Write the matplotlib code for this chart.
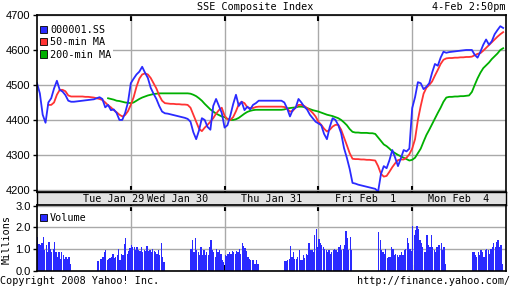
import matplotlib
matplotlib.use("Agg")
import matplotlib.pyplot as plt
from matplotlib.patches import Patch
import numpy as np

# --- data (10-minute samples, 33 per trading day) ---
day_labels = ["Tue Jan 29", "Wed Jan 30", "Thu Jan 31", "Fri Feb  1", "Mon Feb  4"]
nan = np.nan

price = [
    # Tue Jan 29
    4505, 4476, 4415, 4392, 4450, 4462, 4490, 4512, 4486, 4481, 4471, 4455, 4452,
    4452, 4453, 4454, 4455, 4456, 4457, 4458, 4459,
    4462, 4465, 4460, 4436, 4443, 4428, 4430, 4420, 4400, 4400, 4420, 4450,
    # Wed Jan 30
    4505, 4518, 4530, 4538, 4552, 4535, 4520, 4492, 4475, 4460, 4440, 4424, 4419,
    4418, 4416, 4414, 4412, 4410, 4408, 4406, 4403,
    4395, 4365, 4345, 4370, 4405, 4400, 4380, 4372, 4440, 4460, 4440, 4420,
    # Thu Jan 31
    4378, 4385, 4412, 4445, 4472, 4440, 4452, 4428, 4438, 4430, 4443, 4448, 4455,
    4455, 4455, 4455, 4455, 4455, 4455, 4455, 4455,
    4450, 4433, 4410, 4429, 4435, 4460, 4450, 4438, 4430, 4415, 4405, 4395,
    # Fri Feb 1
    4390, 4385, 4360, 4345, 4380, 4405, 4400, 4385, 4362, 4320, 4292, 4260, 4220,
    4218, 4215, 4213, 4211, 4209, 4207, 4205, 4203,
    4195, 4245, 4268, 4262, 4285, 4314, 4292, 4268, 4290, 4314, 4310, 4318,
    # Mon Feb 4
    4434, 4465, 4508, 4505, 4488, 4495, 4505, 4535, 4560, 4555, 4578, 4595, 4592,
    4594, 4595, 4596, 4597, 4598, 4599, 4600, 4600,
    4600, 4586, 4578, 4595, 4615, 4630, 4615, 4625, 4645, 4657, 4668, 4663,
]

ma50 = [
    nan, nan, nan, nan, 4443, 4443, 4450, 4472, 4486, 4486, 4482, 4470, 4467,
    4467, 4467, 4467, 4467, 4466, 4466, 4465, 4464,
    4462, 4460, 4457, 4450, 4442, 4436, 4428, 4422, 4415, 4410, 4414, 4425,
    4443, 4465, 4495, 4518, 4530, 4533, 4530, 4520, 4505, 4490, 4470, 4455, 4448,
    4447, 4446, 4446, 4445, 4445, 4444, 4444, 4443,
    4435, 4415, 4395, 4375, 4368, 4378, 4386, 4395, 4405, 4418, 4428, 4435,
    4412, 4402, 4400, 4408, 4425, 4445, 4452, 4448, 4436, 4434, 4434, 4437, 4438,
    4438, 4438, 4438, 4438, 4438, 4438, 4438, 4438,
    4437, 4432, 4424, 4426, 4436, 4443, 4443, 4440, 4434, 4428, 4420, 4410,
    4395, 4386, 4375, 4367, 4372, 4381, 4386, 4386, 4372, 4350, 4328, 4305, 4289,
    4288, 4288, 4287, 4287, 4286, 4286, 4285, 4284,
    4268, 4246, 4238, 4240, 4252, 4265, 4276, 4285, 4287, 4287, 4292, 4302,
    4318, 4345, 4400, 4440, 4475, 4492, 4500, 4510, 4527, 4543, 4560, 4572, 4576,
    4577, 4577, 4578, 4578, 4579, 4579, 4580, 4580,
    4581, 4585, 4589, 4591, 4598, 4606, 4614, 4622, 4630, 4638, 4645, 4651,
]

ma200 = [
    nan, nan, nan, nan, nan, nan, nan, nan, nan, nan, nan, nan, nan,
    nan, nan, nan, nan, nan, nan, nan, nan,
    nan, nan, nan, nan, 4462, 4460, 4458, 4455, 4454, 4452, 4450, 4449,
    4448, 4450, 4455, 4460, 4464, 4467, 4470, 4472, 4474, 4475, 4476, 4476, 4476,
    4476, 4476, 4476, 4476, 4476, 4476, 4476, 4476,
    4475, 4472, 4468, 4462, 4455, 4446, 4438, 4430, 4424, 4418, 4414, 4410,
    4408, 4403, 4400, 4400, 4402, 4406, 4412, 4418, 4423, 4426, 4428, 4429, 4429,
    4429, 4429, 4429, 4429, 4429, 4429, 4429, 4429,
    4430, 4433, 4434, 4435, 4436, 4438, 4438, 4437, 4434, 4431, 4428, 4426,
    4424, 4421, 4418, 4415, 4413, 4411, 4408, 4405, 4400, 4393, 4385, 4374, 4366,
    4364, 4364, 4363, 4363, 4363, 4362, 4362, 4360,
    4350, 4340, 4330, 4325, 4318, 4310, 4305, 4300, 4296, 4292, 4288, 4284,
    4286, 4292, 4305, 4318, 4338, 4357, 4372, 4388, 4404, 4420, 4435, 4452, 4464,
    4466, 4466, 4467, 4467, 4468, 4468, 4469, 4470,
    4480, 4500, 4519, 4535, 4548, 4556, 4564, 4574, 4582, 4590, 4600, 4605,
]

# volume in millions, 5-minute bars, morning and afternoon sessions
vol_am = [
    [1.57, 1.22, 1.19, 1.30, 1.57, 0.95, 1.19, 0.88, 1.34, 1.03, 0.88, 1.00,
     1.34, 0.88, 0.66, 0.85, 0.57, 0.88, 0.73, 0.57, 0.65, 0.57, 0.65, 0.30],
    [1.19, 1.10, 1.12, 0.96, 1.12, 0.96, 0.93, 1.10, 0.88, 0.96, 0.93, 1.15,
     0.90, 0.96, 0.88, 1.03, 0.93, 0.88, 0.80, 0.96, 0.73, 1.27, 0.65, 0.42],
    [0.73, 0.70, 0.76, 0.88, 0.80, 0.90, 0.88, 0.76, 0.90, 0.88, 1.00, 0.76,
     1.30, 1.15, 1.04, 0.90, 0.65, 0.57, 0.50, 0.50, 0.50, 0.30, 0.50, 0.30],
    [1.47, 1.27, 1.19, 1.10, 1.03, 0.96, 0.88, 0.96, 0.80, 0.88, 0.96, 1.03,
     0.96, 0.88, 1.10, 1.19, 0.96, 1.00, 1.20, 1.83, 1.50, 0.96, 1.57, 0.96],
    [2.08, 1.65, 1.88, 2.05, 1.95, 1.42, 1.27, 1.12, 0.88, 0.88, 1.65, 1.19,
     1.12, 1.65, 1.12, 0.96, 0.88, 1.12, 1.19, 1.19, 1.27, 0.96, 1.12, 0.30],
]
vol_pm = [
    [0.45, 0.46, 0.53, 0.57, 0.62, 0.88, 0.96, 0.50, 0.55, 0.58, 0.62, 0.78,
     0.58, 0.62, 0.73, 1.00, 0.50, 0.80, 0.73, 1.24, 1.50, 0.80, 0.90, 1.05],
    [1.00, 1.43, 0.88, 1.52, 0.96, 0.88, 0.73, 1.10, 0.73, 0.96, 0.73, 0.88,
     0.73, 1.10, 1.42, 0.96, 0.88, 0.66, 1.03, 0.88, 0.96, 0.80, 0.50, 0.43],
    [0.46, 0.46, 0.50, 0.55, 1.15, 0.66, 0.88, 0.55, 0.55, 0.66, 0.96, 0.50,
     0.50, 0.73, 0.60, 0.80, 0.73, 1.27, 0.96, 0.96, 0.88, 1.65, 1.92, 1.10],
    [1.80, 1.42, 0.96, 0.88, 0.80, 1.03, 0.58, 0.66, 0.62, 1.12, 1.03, 0.73,
     0.80, 0.73, 0.66, 0.73, 0.88, 0.73, 0.96, 1.03, 1.50, 1.27, 1.00, 0.90],
    [0.88, 0.85, 0.73, 0.66, 0.88, 0.73, 0.96, 0.88, 0.66, 0.96, 1.03, 0.96,
     0.80, 1.03, 1.10, 1.27, 1.10, 1.34, 1.42, 1.10, 1.20, 0.30],
]

# --- time axis: minutes from 9:30, 330 minutes per day block (lunch kept) ---
DAY = 330
price_t = np.array([d * DAY + 10 * j for d in range(5) for j in range(33)])
vol_t, vol = [], []
for d in range(5):
    vol_t += [d * DAY + 5 * k for k in range(len(vol_am[d]))]
    vol += vol_am[d]
    vol_t += [d * DAY + 210 + 5 * k for k in range(len(vol_pm[d]))]
    vol += vol_pm[d]

BLUE = "#2a2aff"
RED = "#ff3333"
GREEN = "#00b000"
GRID = "#a9a9a9"
MONO = "DejaVu Sans Mono"
W, H = 512, 288

fig = plt.figure(figsize=(W / 100, H / 100), dpi=100)
L, R = 37 / W, 506 / W

ax = fig.add_axes([L, 1 - 192 / H, R - L, 177 / H])
band = fig.add_axes([L, 1 - 205 / H, R - L, 13 / H])
vax = fig.add_axes([L, 1 - 271 / H, R - L, 66 / H])

bounds = [DAY, 2 * DAY, 3 * DAY, 4 * DAY]

# price panel
ax.plot(price_t, ma200, color=GREEN, lw=1.3)
ax.plot(price_t, ma50, color=RED, lw=1.3)
ax.plot(price_t, price, color=BLUE, lw=1.3)
ax.set_xlim(0, 5 * DAY)
ax.set_ylim(4194, 4700)
ax.set_yticks([4200, 4300, 4400, 4500, 4600, 4700])
ax.set_xticks(bounds)
ax.grid(True, color=GRID, lw=1.0)
ax.set_axisbelow(True)
ax.tick_params(axis="x", direction="in", length=4, width=1.5, top=True,
               bottom=True, labelbottom=False)
ax.tick_params(axis="y", direction="out", length=3, width=1, pad=1.5,
               labelsize=8, labelfontfamily="Liberation Sans")
for s in ax.spines.values():
    s.set_linewidth(1.2)

handles = [Patch(facecolor=c, edgecolor="black", lw=0.6) for c in (BLUE, RED, GREEN)]
leg = ax.legend(handles, ["000001.SS", "50-min MA", "200-min MA"],
                loc="upper left", bbox_to_anchor=(0.0, 0.96),
                prop={"family": MONO, "size": 7.3}, handlelength=0.7,
                handleheight=0.7, handletextpad=0.3, labelspacing=0.22,
                borderpad=0.2, borderaxespad=0.1, frameon=True, fancybox=False)
leg.get_frame().set_facecolor("white")
leg.get_frame().set_edgecolor("none")
leg.get_frame().set_alpha(1)

# date band
band.set_facecolor("#e2e2e2")
band.set_xlim(0, 5 * DAY)
band.set_ylim(0, 1)
band.set_xticks([])
band.set_yticks([])
for s in band.spines.values():
    s.set_linewidth(1.0)
label_x = [270] + [d * DAY + DAY / 2 for d in range(1, 5)]
for x, lab in zip(label_x, day_labels):
    band.text(x, 0.45, lab, ha="center", va="center", family=MONO, fontsize=7.3)

# volume panel
vax.bar(vol_t, vol, width=4.4, align="edge", color=BLUE, lw=0)
vax.set_xlim(0, 5 * DAY)
vax.set_ylim(0, 3.03)
vax.set_yticks([0.0, 1.0, 2.0, 3.0])
vax.set_yticklabels(["0.0", "1.0", "2.0", "3.0"])
vax.set_xticks(bounds)
vax.grid(True, color=GRID, lw=1.0)
vax.set_axisbelow(True)
vax.tick_params(axis="x", direction="in", length=4, width=1.5, top=True,
                bottom=True, labelbottom=False)
vax.tick_params(axis="y", direction="out", length=3, width=1, pad=1.5,
                labelsize=8, labelfontfamily="Liberation Sans")
for s in vax.spines.values():
    s.set_linewidth(1.2)
vleg = vax.legend([Patch(facecolor=BLUE, edgecolor="black", lw=0.6)], ["Volume"],
                  loc="upper left", bbox_to_anchor=(0.0, 0.92),
                  prop={"family": MONO, "size": 7.3}, handlelength=0.7,
                  handleheight=0.7, handletextpad=0.3, borderpad=0.2,
                  borderaxespad=0.1, frameon=True, fancybox=False)
vleg.get_frame().set_facecolor("white")
vleg.get_frame().set_edgecolor("none")

# texts
fig.text(255 / W, 1 - 7 / H, "SSE Composite Index", ha="center", va="center",
         family=MONO, fontsize=7.3)
fig.text(505 / W, 1 - 7 / H, "4-Feb 2:50pm", ha="right", va="center",
         family=MONO, fontsize=7.3)
fig.text(7 / W, 1 - 240 / H, "Millions", rotation=90, ha="center", va="center",
         family=MONO, fontsize=7.3)
fig.text(0, 1 - 281 / H, "Copyright 2008 Yahoo! Inc.", ha="left", va="center",
         family=MONO, fontsize=7.3)
fig.text(510 / W, 1 - 281 / H, "http://finance.yahoo.com/", ha="right",
         va="center", family=MONO, fontsize=7.3)

fig.savefig("out.png", dpi=100, facecolor="white")
